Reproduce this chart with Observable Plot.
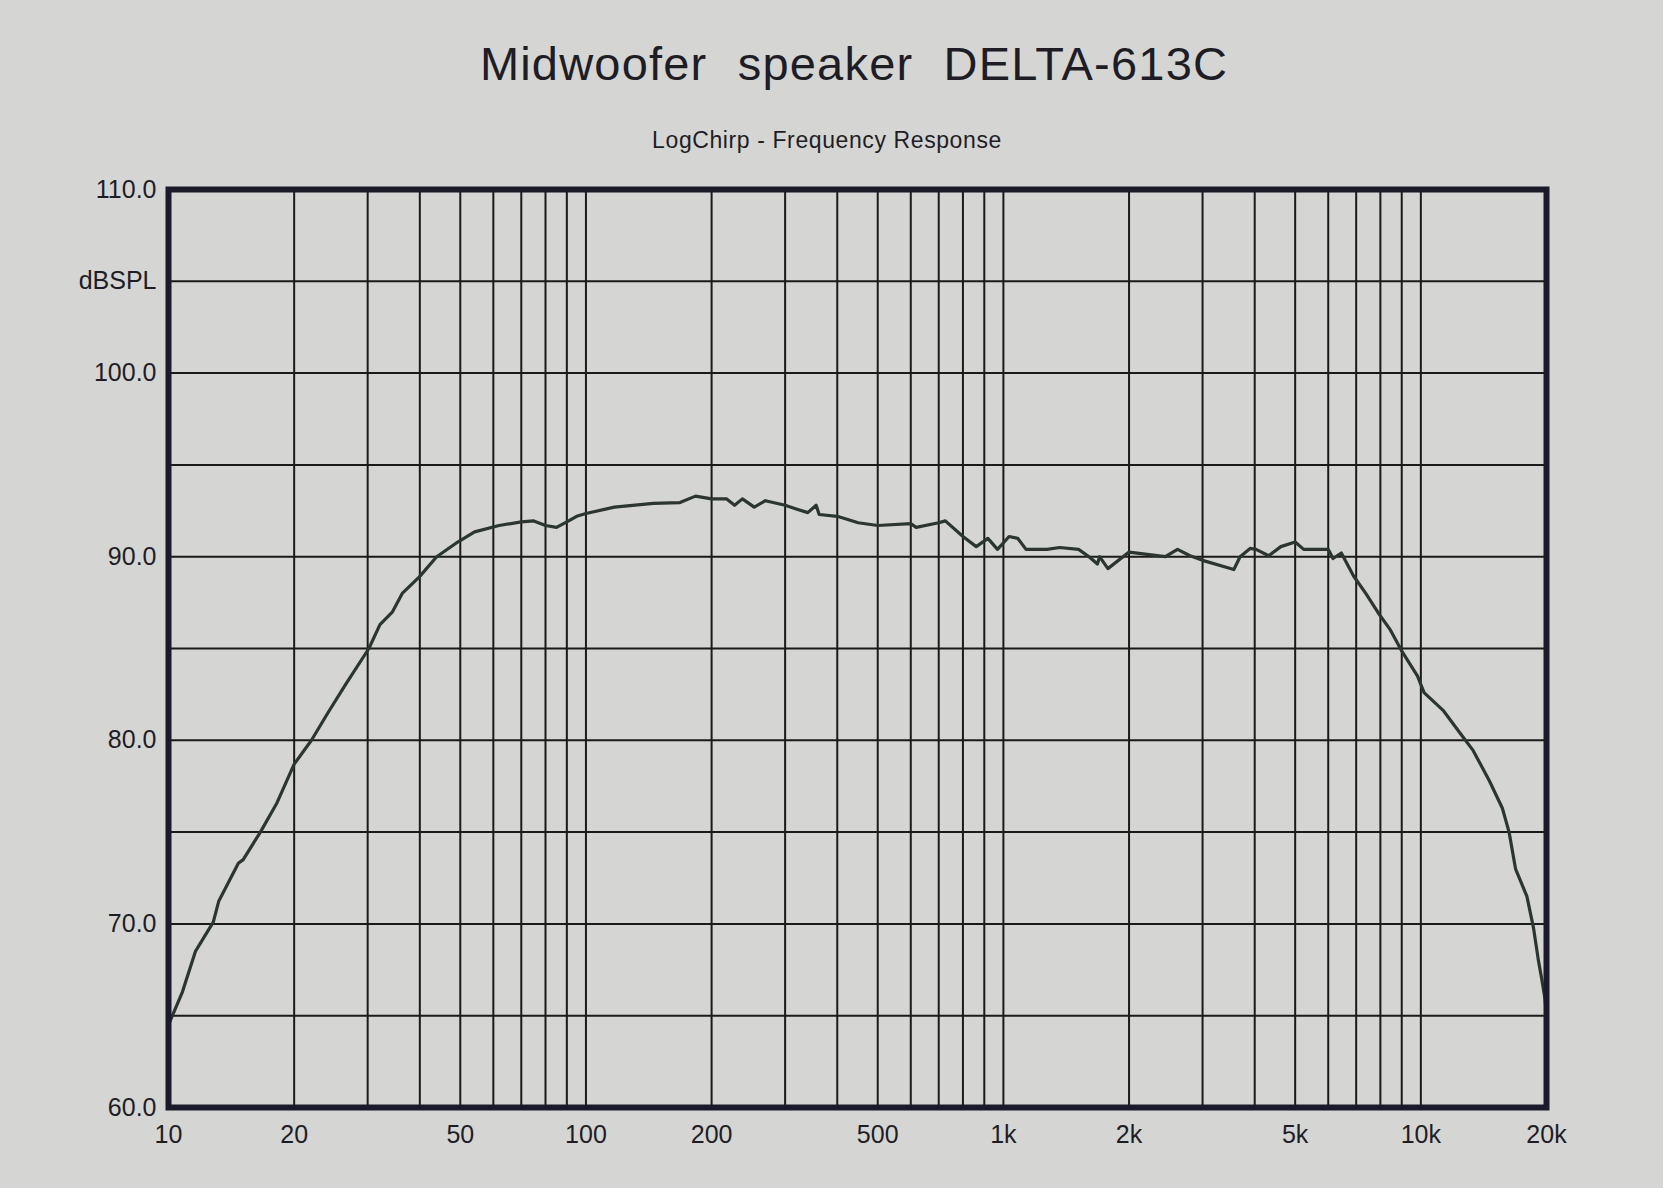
<!DOCTYPE html>
<html>
<head>
<meta charset="utf-8">
<script src="https://cdn.jsdelivr.net/npm/d3@7"></script>
<script src="https://cdn.jsdelivr.net/npm/@observablehq/plot@0.6"></script>
<style>
  html, body { margin: 0; padding: 0; background: #d5d6d3; }
  #page { position: relative; width: 1663px; height: 1188px; background: #d5d6d3; overflow: hidden; }
  #head { position: relative; width: 1663px; height: 165px; }
  #title { position: absolute; left: 0; width: 1708px; top: 36px; text-align: center;
           font-family: "Liberation Sans", Arial, sans-serif; font-size: 47px; color: #1e1d26;
           word-spacing: 16px; letter-spacing: 1.2px; }
  #subtitle { position: absolute; left: 0; width: 1654px; top: 127px; text-align: center;
              font-family: "Liberation Sans", Arial, sans-serif; font-size: 23px; color: #1e1d26;
              letter-spacing: 0.6px; }
  #chart svg { display: block; }
</style>
</head>
<body>
<div id="page">
  <div id="head">
    <div id="title">Midwoofer speaker DELTA-613C</div>
    <div id="subtitle">LogChirp - Frequency Response</div>
  </div>
  <div id="chart"></div>
</div>
<script>
// Frequency response (Hz, dB SPL)
const freqHz = [10, 10.8, 11.6, 12.8, 13.2, 14.7, 15.1, 16.6, 18.2, 20, 22, 24.1, 26.5, 30.2, 32.1, 34.4, 36.3, 39.9, 43.9, 49.3, 54.1, 61.9, 70, 75, 80, 85, 90, 95, 100, 117, 145, 168, 183, 200, 217, 227, 237, 253, 269, 300, 319, 340, 356, 362, 400, 449, 500, 600, 618, 700, 726, 800, 861, 918, 968, 1032, 1082, 1133, 1272, 1364, 1514, 1604, 1680, 1700, 1780, 2000, 2443, 2613, 2800, 3000, 3565, 3690, 3900, 4030, 4320, 4620, 5000, 5240, 5480, 6000, 6160, 6450, 6900, 7380, 7900, 8460, 8980, 9820, 10180, 11340, 12410, 13340, 14590, 15680, 16270, 16860, 17950, 18610, 19130, 19480, 19840, 20000];
const splDb = [64.5, 66.3, 68.5, 70.1, 71.25, 73.3, 73.5, 75.0, 76.6, 78.7, 80.0, 81.5, 83.0, 85.0, 86.3, 87.0, 88.0, 88.9, 90.0, 90.8, 91.35, 91.7, 91.9, 91.95, 91.7, 91.6, 91.9, 92.2, 92.35, 92.7, 92.9, 92.95, 93.3, 93.15, 93.15, 92.8, 93.15, 92.7, 93.05, 92.8, 92.6, 92.4, 92.8, 92.3, 92.2, 91.85, 91.7, 91.8, 91.6, 91.85, 91.95, 91.1, 90.55, 91.0, 90.4, 91.1, 91.0, 90.4, 90.4, 90.5, 90.4, 90.0, 89.6, 90.0, 89.35, 90.25, 90.0, 90.4, 90.05, 89.8, 89.3, 90.0, 90.45, 90.4, 90.05, 90.55, 90.8, 90.4, 90.4, 90.4, 89.9, 90.2, 88.95, 88.0, 86.95, 86.0, 84.9, 83.5, 82.6, 81.6, 80.4, 79.45, 77.8, 76.3, 75.0, 73.0, 71.5, 69.8, 68.0, 67.0, 65.9, 65.0];

// Axis labels
const xTickValues = [10, 20, 50, 100, 200, 500, 1000, 2000, 5000, 10000, 20000];
const xTickLabels = ["10", "20", "50", "100", "200", "500", "1k", "2k", "5k", "10k", "20k"];
const yTickValues = [60, 70, 80, 90, 100, 105, 110];
const yTickLabels = ["60.0", "70.0", "80.0", "90.0", "100.0", "dBSPL", "110.0"];

// Grid
const gridFreqs = [10, 20, 30, 40, 50, 60, 70, 80, 90, 100, 200, 300, 400, 500, 600, 700, 800, 900, 1000, 2000, 3000, 4000, 5000, 6000, 7000, 8000, 9000, 10000, 20000];
const gridLevels = [60, 65, 70, 75, 80, 85, 90, 95, 100, 105, 110];

const data = freqHz.map((f, i) => ({f, db: splDb[i]}));
const xLabel = new Map(xTickValues.map((v, i) => [v, xTickLabels[i]]));
const yLabel = new Map(yTickValues.map((v, i) => [v, yTickLabels[i]]));

const chart = Plot.plot({
  width: 1663,
  height: 1023,
  marginTop: 24,
  marginBottom: 81,
  marginLeft: 168,
  marginRight: 117,
  style: {background: "transparent", fontFamily: "'Liberation Sans', Arial, sans-serif", color: "#1e1d26"},
  x: {type: "log", domain: [10, 20000]},
  y: {domain: [60, 110]},
  marks: [
    Plot.ruleX(gridFreqs, {stroke: "#1a1a1a", strokeWidth: 2}),
    Plot.ruleY(gridLevels, {stroke: "#1a1a1a", strokeWidth: 2}),
    Plot.line(data, {x: "f", y: "db", stroke: "#2b3631", strokeWidth: 3.2, curve: "linear"}),
    Plot.frame({stroke: "#1b1a2a", strokeWidth: 6}),
    Plot.axisX(xTickValues, {tickSize: 0, tickPadding: 18, fontSize: 25, tickFormat: d => xLabel.get(d), label: null}),
    Plot.axisY(yTickValues, {tickSize: 0, tickPadding: 12, fontSize: 25, tickFormat: d => yLabel.get(d), label: null})
  ]
});
document.getElementById("chart").appendChild(chart);
</script>
</body>
</html>
